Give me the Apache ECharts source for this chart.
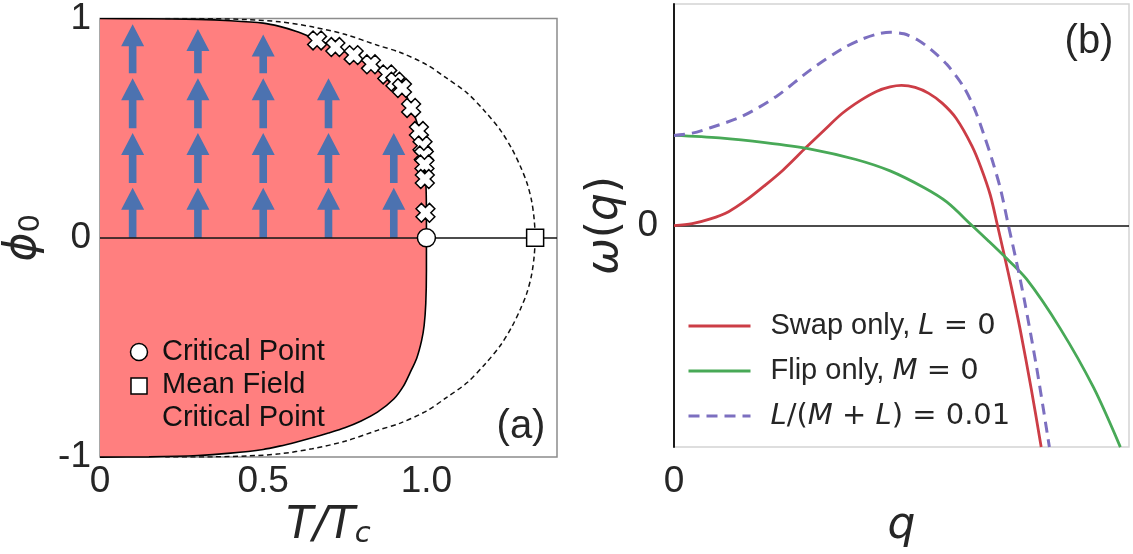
<!DOCTYPE html>
<html>
<head>
<meta charset="utf-8">
<script src="https://cdn.jsdelivr.net/npm/echarts@6/dist/echarts.min.js"></script>
<style>
  html, body { margin: 0; padding: 0; background: #ffffff; }
  #chart { width: 1133px; height: 554px; }
</style>
</head>
<body>
<div id="chart"></div>
<script>
// ---------- panel (a): phase diagram, phi_0 vs T/Tc ----------
const upperBinodal = [
  [0, 1], [0.15, 0.999], [0.3, 0.996], [0.4, 0.99], [0.5, 0.979], [0.55, 0.964],
  [0.6, 0.942], [0.65, 0.913], [0.7, 0.882], [0.75, 0.848], [0.8, 0.812],
  [0.85, 0.772], [0.9, 0.72], [0.925, 0.683], [0.95, 0.61], [0.97, 0.53],
  [0.985, 0.44], [0.995, 0.34], [0.999, 0.22], [1.0, 0.1], [1.0, 0]
];
const lowerBinodal = [
  [0, -1], [0.15, -0.999], [0.3, -0.993], [0.4, -0.982], [0.5, -0.965], [0.55, -0.95],
  [0.6, -0.932], [0.65, -0.912], [0.7, -0.89], [0.75, -0.866], [0.8, -0.835],
  [0.85, -0.795], [0.9, -0.735], [0.93, -0.675], [0.95, -0.615], [0.97, -0.55],
  [0.985, -0.47], [0.993, -0.4], [0.998, -0.3], [1.0, -0.15], [1.0, 0]
];
const meanFieldUpper = [
  [0.2, 1.0], [0.35, 0.999], [0.45, 0.995], [0.55, 0.985], [0.65, 0.962], [0.75, 0.928],
  [0.85, 0.878], [0.92, 0.845], [1.0, 0.79], [1.06, 0.73], [1.125, 0.66], [1.18, 0.575],
  [1.227, 0.49], [1.262, 0.405], [1.288, 0.325], [1.308, 0.25], [1.322, 0.17],
  [1.33, 0.085], [1.333, 0]
];
const meanFieldLower = [
  [1.33, -0.085], [1.322, -0.17], [1.308, -0.25], [1.288, -0.325], [1.262, -0.405],
  [1.227, -0.49], [1.18, -0.575], [1.125, -0.66], [1.06, -0.73], [1.0, -0.79],
  [0.92, -0.845], [0.85, -0.878], [0.75, -0.928], [0.65, -0.962], [0.55, -0.985],
  [0.45, -0.995], [0.35, -0.999], [0.2, -1.0]
];
const simulationPoints = [
  [0.665, 0.9], [0.721, 0.87], [0.777, 0.833], [0.83, 0.791], [0.88, 0.745],
  [0.905, 0.712], [0.925, 0.683], [0.953, 0.592], [0.977, 0.487], [0.988, 0.42],
  [0.992, 0.375], [0.994, 0.334], [0.995, 0.268], [0.997, 0.114]
];
const criticalPoint = [[1.0, 0]];
const meanFieldCriticalPoint = [[1.333, 0]];
// [T/Tc, phi at tail, phi at tip]
const flowArrows = [
  [0.1, 0, 0.228], [0.1, 0.25, 0.478], [0.1, 0.5, 0.728], [0.1, 0.75, 0.974],
  [0.3, 0, 0.228], [0.3, 0.25, 0.478], [0.3, 0.5, 0.728], [0.3, 0.75, 0.952],
  [0.5, 0, 0.228], [0.5, 0.25, 0.478], [0.5, 0.5, 0.728], [0.5, 0.75, 0.927],
  [0.7, 0, 0.228], [0.7, 0.25, 0.478], [0.7, 0.5, 0.728],
  [0.9, 0, 0.228], [0.9, 0.25, 0.478]
];
const xTicksA = [0, 0.5, 1.0];
const xTickLabelsA = ['0', '0.5', '1.0'];
const yTicksA = [-1, 0, 1];
const yTickLabelsA = ['-1', '0', '1'];

// ---------- panel (b): growth rate omega(q) ----------
const seriesNamesB = ['Swap only, L = 0', 'Flip only, M = 0', 'L/(M + L) = 0.01'];
const swapOnly = [
  [0, 0], [0.04, 0.02], [0.08, 0.067], [0.12, 0.14], [0.16, 0.26], [0.2, 0.405],
  [0.24, 0.56], [0.29, 0.785], [0.33, 0.96], [0.37, 1.13], [0.41, 1.26], [0.445, 1.35],
  [0.475, 1.395], [0.5, 1.41], [0.53, 1.39], [0.56, 1.33], [0.59, 1.23], [0.62, 1.08],
  [0.655, 0.8], [0.675, 0.58], [0.695, 0.31], [0.711, 0], [0.726, -0.3], [0.742, -0.63],
  [0.761, -1.05], [0.785, -1.64], [0.807, -2.23]
];
const flipOnly = [
  [0, 0.907], [0.1, 0.882], [0.2, 0.835], [0.3, 0.77], [0.4, 0.665], [0.475, 0.55],
  [0.55, 0.38], [0.6, 0.235], [0.655, 0], [0.69, -0.15], [0.724, -0.3], [0.775, -0.54],
  [0.848, -1.03], [0.922, -1.63], [0.981, -2.23]
];
const mixedRates = [
  [0, 0.907], [0.04, 0.93], [0.08, 0.984], [0.15, 1.1], [0.225, 1.3], [0.3, 1.567],
  [0.37, 1.78], [0.41, 1.87], [0.445, 1.925], [0.475, 1.945], [0.505, 1.93],
  [0.535, 1.87], [0.565, 1.77], [0.6, 1.62], [0.636, 1.4], [0.66, 1.18], [0.68, 0.93],
  [0.7, 0.65], [0.718, 0.36], [0.735, 0], [0.752, -0.35], [0.77, -0.75],
  [0.797, -1.43], [0.825, -2.23]
];
const xTicksB = [0];
const xTickLabelsB = ['0'];
const yTicksB = [0];
const yTickLabelsB = ['0'];

// ---------- styling ----------
const TEXT = '#262626';
const SANS = 'Liberation Sans, Arial, Helvetica, sans-serif';
const MATH = 'DejaVu Sans, sans-serif';
const FILL_RED = '#ff7f7f';
const ARROW_BLUE = '#4c72b0';
const LINE_RED = '#cc3d46';
const LINE_GREEN = '#48a957';
const LINE_PURPLE = '#7c6fc0';

function tickFormatter(ticks, labels) {
  return function (v) {
    const i = ticks.findIndex(t => Math.abs(t - v) < 1e-6);
    return i >= 0 ? labels[i] : '';
  };
}

const mathRich = {
  i: { fontFamily: MATH, fontStyle: 'italic', fontSize: 44, color: TEXT },
  u: { fontFamily: MATH, fontSize: 44, color: TEXT },
  s: { fontFamily: MATH, fontStyle: 'italic', fontSize: 29, color: TEXT, padding: [14, 0, 0, 0] },
  d: { fontFamily: MATH, fontSize: 29, color: TEXT, padding: [14, 0, 0, 0] }
};

const legendText = {};
legendText[seriesNamesB[0]] = 'Swap only, {i|L}{u| = 0}';
legendText[seriesNamesB[1]] = 'Flip only, {i|M}{u| = 0}';
legendText[seriesNamesB[2]] = '{i|L}{u|/(}{i|M}{u| + }{i|L}{u|) = 0.01}';

function renderArrow(params, api) {
  const x = api.value(0);
  const tail = api.coord([x, api.value(1)]);
  const tip = api.coord([x, api.value(2)]);
  const headLen = 22, headHalf = 11.5, shaftHalf = 3.8;
  const base = tip[1] + headLen;
  const cx = tail[0];
  return {
    type: 'polygon',
    shape: {
      points: [
        [cx - shaftHalf, tail[1]], [cx - shaftHalf, base], [cx - headHalf, base],
        [cx, tip[1]], [cx + headHalf, base], [cx + shaftHalf, base], [cx + shaftHalf, tail[1]]
      ]
    },
    style: { fill: ARROW_BLUE }
  };
}

const zeroLine = {
  silent: true, symbol: 'none', label: { show: false },
  lineStyle: { color: '#111', width: 1.6, type: 'solid' },
  data: [{ yAxis: 0 }]
};

const crossPath = 'path://M-1.2,-3 L1.2,-3 L1.2,-1.2 L3,-1.2 L3,1.2 L1.2,1.2 L1.2,3 L-1.2,3 L-1.2,1.2 L-3,1.2 L-3,-1.2 L-1.2,-1.2 Z';

const chart = echarts.init(document.getElementById('chart'), null, { renderer: 'canvas' });

chart.setOption({
  animation: false,
  backgroundColor: '#ffffff',
  grid: [
    { left: 100, top: 16, width: 457, height: 446.6, show: true, borderColor: '#8c8c8c', borderWidth: 1.5, backgroundColor: 'transparent' },
    { left: 674, top: 4, width: 455, height: 446, show: true, borderColor: '#d4d4d4', borderWidth: 1.5, backgroundColor: 'transparent' }
  ],
  xAxis: [
    {
      gridIndex: 0, type: 'value', min: 0, max: 1.4, interval: 0.5,
      axisLine: { show: false }, axisTick: { show: false }, splitLine: { show: false },
      axisLabel: { formatter: tickFormatter(xTicksA, xTickLabelsA), fontSize: 37, fontFamily: SANS, color: TEXT, margin: 6, showMaxLabel: false },
      name: '{i|T/T}{s|c}', nameLocation: 'middle', nameGap: 42,
      nameTextStyle: { rich: mathRich }
    },
    {
      gridIndex: 1, type: 'value', min: 0, max: 1, interval: 1,
      axisLine: { show: false }, axisTick: { show: false }, splitLine: { show: false },
      axisLabel: { formatter: tickFormatter(xTicksB, xTickLabelsB), fontSize: 37, fontFamily: SANS, color: TEXT, margin: 16 },
      name: '{i|q}', nameLocation: 'middle', nameGap: 55,
      nameTextStyle: { rich: mathRich }
    }
  ],
  yAxis: [
    {
      gridIndex: 0, type: 'value', min: -1, max: 1, interval: 1,
      axisLine: { show: false }, axisTick: { show: false }, splitLine: { show: false },
      axisLabel: { formatter: tickFormatter(yTicksA, yTickLabelsA), fontSize: 37, fontFamily: SANS, color: TEXT, margin: 9 },
      name: '{i|ϕ}{d|0}', nameLocation: 'middle', nameGap: 54,
      nameTextStyle: { rich: mathRich }
    },
    {
      gridIndex: 1, type: 'value', min: -2.23, max: 2.23, interval: 2.23,
      axisLine: { show: true, lineStyle: { color: '#1a1a1a', width: 2 } },
      axisTick: { show: false }, splitLine: { show: false },
      axisLabel: { formatter: tickFormatter(yTicksB, yTickLabelsB), fontSize: 37, fontFamily: SANS, color: TEXT, margin: 16 },
      name: '{i|ω}{u|(}{i|q}{u|)}', nameLocation: 'middle', nameGap: 46,
      nameTextStyle: { rich: mathRich }
    }
  ],
  legend: {
    data: seriesNamesB,
    orient: 'vertical', left: 682, top: 304,
    itemWidth: 62, itemHeight: 12, itemGap: 11,
    lineStyle: { width: 3 },
    itemStyle: { opacity: 0 },
    formatter: name => legendText[name],
    textStyle: {
      fontSize: 29, fontFamily: SANS, color: TEXT, lineHeight: 34, padding: [0, 0, 0, 15],
      rich: {
        i: { fontFamily: MATH, fontStyle: 'italic', fontSize: 29, color: TEXT },
        u: { fontFamily: MATH, fontSize: 29, color: TEXT }
      }
    }
  },
  graphic: [
    { type: 'text', x: 521, y: 427, style: { text: '(a)', font: '40px ' + SANS, fill: TEXT, align: 'center', verticalAlign: 'middle' }, z: 20 },
    { type: 'text', x: 1089, y: 42, style: { text: '(b)', font: '40px ' + SANS, fill: TEXT, align: 'center', verticalAlign: 'middle' }, z: 20 },
    { type: 'circle', shape: { cx: 139, cy: 352, r: 8.5 }, style: { fill: '#ffffff', stroke: '#000000', lineWidth: 1.5 }, z: 20 },
    { type: 'text', x: 162, y: 352, style: { text: 'Critical Point', font: '29px ' + SANS, fill: '#111', verticalAlign: 'middle' }, z: 20 },
    { type: 'rect', shape: { x: 131, y: 378, width: 16, height: 16 }, style: { fill: '#ffffff', stroke: '#000000', lineWidth: 1.5 }, z: 20 },
    { type: 'text', x: 162, y: 385, style: { text: 'Mean Field', font: '29px ' + SANS, fill: '#111', verticalAlign: 'middle' }, z: 20 },
    { type: 'text', x: 162, y: 418, style: { text: 'Critical Point', font: '29px ' + SANS, fill: '#111', verticalAlign: 'middle' }, z: 20 }
  ],
  series: [
    // coexistence region (upper and lower halves)
    {
      name: 'binodal-upper', type: 'line', xAxisIndex: 0, yAxisIndex: 0, data: upperBinodal,
      smooth: 0.25, symbol: 'none', z: 1,
      lineStyle: { color: '#000', width: 1.6 }, areaStyle: { color: FILL_RED, opacity: 1 },
      markLine: zeroLine
    },
    {
      name: 'binodal-lower', type: 'line', xAxisIndex: 0, yAxisIndex: 0, data: lowerBinodal,
      smooth: 0.25, symbol: 'none', z: 1,
      lineStyle: { color: '#000', width: 1.6 }, areaStyle: { color: FILL_RED, opacity: 1 }
    },
    // mean-field coexistence curve
    {
      name: 'mean-field', type: 'line', xAxisIndex: 0, yAxisIndex: 0,
      data: meanFieldUpper.concat(meanFieldLower),
      smooth: 0.3, symbol: 'none', z: 3,
      lineStyle: { color: '#111', width: 1.5, type: [5, 3.5] }
    },
    // flow arrows
    {
      name: 'flow', type: 'custom', xAxisIndex: 0, yAxisIndex: 0, data: flowArrows,
      renderItem: renderArrow, z: 4, silent: true
    },
    // simulation binodal points
    {
      name: 'simulation', type: 'scatter', xAxisIndex: 0, yAxisIndex: 0, data: simulationPoints,
      symbol: crossPath, symbolSize: 19, symbolRotate: 45, z: 6,
      itemStyle: { color: '#ffffff', borderColor: '#000000', borderWidth: 1.5, opacity: 1 }
    },
    {
      name: 'Critical Point', type: 'scatter', xAxisIndex: 0, yAxisIndex: 0, data: criticalPoint,
      symbol: 'circle', symbolSize: 18, z: 10,
      itemStyle: { color: '#ffffff', borderColor: '#000000', borderWidth: 1.5, opacity: 1 }
    },
    {
      name: 'Mean Field Critical Point', type: 'scatter', xAxisIndex: 0, yAxisIndex: 0, data: meanFieldCriticalPoint,
      symbol: 'rect', symbolSize: 17, z: 10,
      itemStyle: { color: '#ffffff', borderColor: '#000000', borderWidth: 1.5, opacity: 1 }
    },
    // panel (b) curves
    {
      name: seriesNamesB[0], type: 'line', xAxisIndex: 1, yAxisIndex: 1, data: swapOnly,
      smooth: 0.3, symbol: 'none', z: 5, color: LINE_RED,
      lineStyle: { color: LINE_RED, width: 2.8 },
      markLine: zeroLine
    },
    {
      name: seriesNamesB[1], type: 'line', xAxisIndex: 1, yAxisIndex: 1, data: flipOnly,
      smooth: 0.3, symbol: 'none', z: 5, color: LINE_GREEN,
      lineStyle: { color: LINE_GREEN, width: 2.8 }
    },
    {
      name: seriesNamesB[2], type: 'line', xAxisIndex: 1, yAxisIndex: 1, data: mixedRates,
      smooth: 0.3, symbol: 'none', z: 5, color: LINE_PURPLE,
      lineStyle: { color: LINE_PURPLE, width: 3, type: [11, 7] }
    }
  ]
});
</script>
</body>
</html>
